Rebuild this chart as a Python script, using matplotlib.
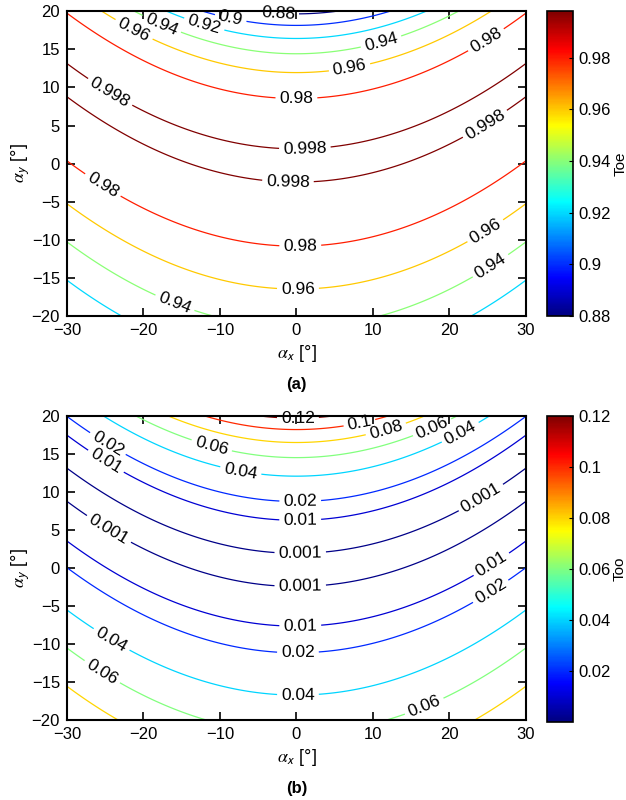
import numpy as np
import matplotlib
matplotlib.use('Agg')
import matplotlib.pyplot as plt
from matplotlib.colors import Normalize, LinearSegmentedColormap
from matplotlib.cm import ScalarMappable

plt.rcParams['font.family'] = ['Liberation Sans', 'DejaVu Sans']
plt.rcParams['mathtext.fontset'] = 'stix'

# axis ranges (degrees)
ax_range = [-30, 30]
ay_range = [-20, 20]
x_ticks = [-30, -20, -10, 0, 10, 20, 30]
y_ticks = [-20, -15, -10, -5, 0, 5, 10, 15, 20]

# fitted model parameters
center_y0 = -0.2        # ay of the minimum of Too at ax = 0
center_curv = 0.01244   # shift of the minimum with ax^2
slope_k = 0.0145        # sqrt(Too) per degree
skew_a = 0.01           # asymmetry of the valley
loss = 0.001

levels_toe = [0.88, 0.9, 0.92, 0.94, 0.96, 0.98, 0.998]
levels_too = [0.001, 0.01, 0.02, 0.04, 0.06, 0.08, 0.1, 0.12]
cbar_ticks_toe = [0.88, 0.9, 0.92, 0.94, 0.96, 0.98]
cbar_ticks_too = [0.02, 0.04, 0.06, 0.08, 0.1, 0.12]
cbar_range_toe = [0.88, 0.998]
cbar_range_too = [0.0, 0.12]

# label positions for the contour labels
lab_pos_toe = [(-2.4, 19.5), (-8.7, 18.6), (-12.2, 17.8), (-17.8, 17.9), (11.2, 15.5),
               (-21.5, 17.1), (7, 12.3), (0.2, -16.2), (25.3, -9.8),
               (0, 8.6), (25, 15.9), (-25.3, -2.8), (0.5, -10.6),
               (-24.6, 9), (1.1, 2.2), (-1.1, -2.2), (24.6, 5.3),
               (-15.9, -18.3), (26, -14.4)]
lab_pos_too = [(0.2, 19.5), (8.3, 18.8), (11.8, 17.9),
               (-11.3, 15.3), (17.8, 18.4), (-26.3, -15.1), (16.8, -18.4),
               (-7.4, 12.1), (21.4, 17.9), (-25, -10.8), (0.2, -16.1),
               (-25, 15.8), (0.5, 8.7), (0.2, -11), (25.3, -2.9),
               (-25, 13.9), (0.5, 6), (0.5, -7.5), (25.3, 0.8),
               (-24.6, 5), (0.5, 2), (0.5, -2.5), (24.4, 8.8)]

# classic jet
jet = LinearSegmentedColormap.from_list('jet_classic', [
    (0.0, (0, 0, 0.5)), (0.125, (0, 0, 1)), (0.375, (0, 1, 1)),
    (0.625, (1, 1, 0)), (0.875, (1, 0, 0)), (1.0, (0.5, 0, 0))])

x = np.linspace(ax_range[0], ax_range[1], 301)
y = np.linspace(ay_range[0], ay_range[1], 301)
X, Y = np.meshgrid(x, y)
U = Y - (center_y0 + center_curv * X**2)
too = (slope_k * U * (1 + skew_a * U))**2
toe = 1 - loss - too

fig = plt.figure(figsize=(6.26, 8.0), dpi=100)

def panel(rect, crect, Z, levels, vr, cticks, positions, cname, tag):
    ax = fig.add_axes(rect)
    norm = Normalize(vmin=vr[0], vmax=vr[1])
    cs = ax.contour(X, Y, Z, levels=levels, cmap=jet, norm=norm, linewidths=0.9)
    fmt = {lv: ('%g' % lv) for lv in levels}
    txts = ax.clabel(cs, fmt=fmt, colors='k', fontsize=12.5, inline=True,
                     inline_spacing=4, manual=positions)
    for t in txts:
        t.set_zorder(5)
        t.set_clip_on(False)
    ax.set_xlim(ax_range)
    ax.set_ylim(ay_range)
    ax.set_xticks(x_ticks)
    ax.set_yticks(y_ticks)
    ax.tick_params(direction='in', length=6, width=1.2, top=True, right=True,
                   labelsize=12, pad=5)
    for s in ax.spines.values():
        s.set_linewidth(1.5)
    ax.set_xlabel(r'$\alpha_\mathsf{x}$ [°]', fontsize=13, labelpad=4)
    ax.set_ylabel(r'$\alpha_\mathsf{y}$ [°]', fontsize=13, labelpad=0)
    ax.text(0.5, -0.225, tag, transform=ax.transAxes, ha='center', va='center',
            fontsize=12, fontweight='bold')
    cax = fig.add_axes(crect)
    cb = fig.colorbar(ScalarMappable(norm=norm, cmap=jet), cax=cax)
    cb.set_ticks(cticks)
    cb.set_ticklabels(['%g' % t for t in cticks])
    cb.ax.tick_params(labelsize=12, direction='in', length=3)
    cb.outline.set_linewidth(1.2)
    cb.set_label(cname, fontsize=11, labelpad=2)

panel([0.107, 0.605, 0.733, 0.381], [0.874, 0.605, 0.0415, 0.381],
      toe, levels_toe, cbar_range_toe, cbar_ticks_toe, lab_pos_toe, 'Toe', '(a)')
panel([0.107, 0.100, 0.733, 0.380], [0.874, 0.0975, 0.0415, 0.3825],
      too, levels_too, cbar_range_too, cbar_ticks_too, lab_pos_too, 'Too', '(b)')

fig.savefig('out.png', dpi=100)
